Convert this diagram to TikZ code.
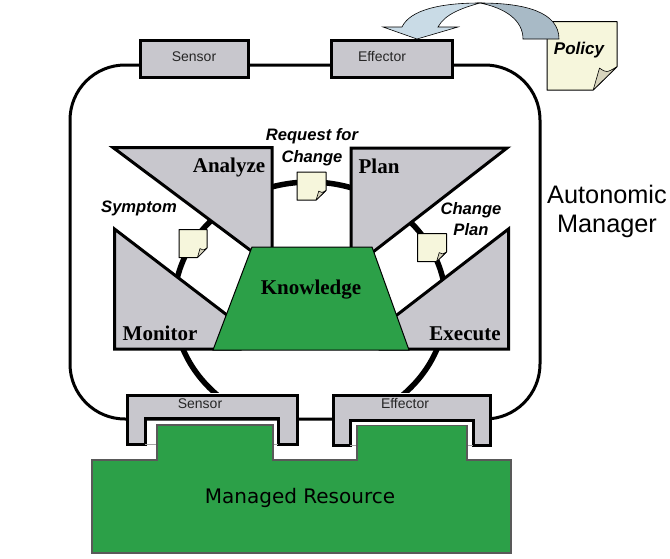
\documentclass[tikz,border=0pt]{standalone}
\usepackage{fontspec}
\setmainfont{Liberation Sans}
\newfontfamily\serifface{Liberation Serif}
\newfontfamily\dejaface{DejaVu Sans}
\definecolor{panelgray}{RGB}{200, 199, 205}
\definecolor{knowgreen}{RGB}{44, 160, 72}
\definecolor{noteyellow}{RGB}{246, 246, 220}
\definecolor{foldtan}{RGB}{216, 213, 190}
\definecolor{arrowlight}{RGB}{201, 219, 230}
\definecolor{arrowdark}{RGB}{168, 186, 198}
\tikzset{
  stage/.style={draw=black, line width=3pt, fill=panelgray, line join=miter},
  stagelabel/.style={font=\serifface\bfseries\fontsize{21}{23}\selectfont, inner sep=0pt},
  notelabel/.style={font=\bfseries\itshape\fontsize{16.6}{18}\selectfont, inner sep=0pt},
  boxlabel/.style={font=\fontsize{14}{16}\selectfont, text=black!85, inner sep=0pt},
  sideword/.style={font=\fontsize{25.3}{27}\selectfont, inner sep=0pt},
  sensorbox/.style={draw=black, line width=3pt, fill=panelgray, inner sep=0pt, minimum height=37pt, font=\fontsize{14}{16}\selectfont, text=black!85}
}
% x y w h for the paper, fold size goes with the width
\newcommand{\notepaper}[4]{
  \begin{scope}[shift={(#1,#2)}, x=#3pt, y=-#4pt]
    \draw[fill=noteyellow, line width=1pt, line join=round] (0,0) -- (1,0) -- (1,0.66) -- (0.66,1) -- (0,1) -- cycle;
    \draw[fill=foldtan, line width=0.6pt, line join=round] (0.66,1) -- (0.75,0.68) .. controls (0.85,0.75) .. (1,0.66) -- cycle;
  \end{scope}
}
\begin{document}
\begin{tikzpicture}[x=1pt, y=-1pt]
  \useasboundingbox (0,0) rectangle (670,558);

  % manager outline
  \draw[line width=3pt, rounded corners=55pt] (70,65) rectangle (540,419);

  % the loop, only the part above the lower boxes
  \begin{scope}
    \clip (100,150) rectangle (520,392);
    \draw[line width=5.5pt] (310,305) ellipse [x radius=136, y radius=123];
  \end{scope}

  \draw[stage] (113,147.5) -- (272,147.5) -- (272,250) -- (250,250) -- cycle;
  \draw[stage] (351,148) -- (507,148) -- (373,252) -- (351,252) -- cycle;
  \draw[stage] (114.5,229) -- (114.5,349) -- (240,349) -- (240,325) -- cycle;
  \draw[stage] (508.5,229) -- (508.5,349) -- (380,349) -- (380,328) -- cycle;
  \draw[fill=knowgreen, line width=1pt] (252,247) -- (372,247) -- (409,350) -- (213,350) -- cycle;

  \node[stagelabel] (analyze) at (229,167) {Analyze};
  \node[stagelabel] (plan) at (379,166.5) {Plan};
  \node[stagelabel] (monitor) at (160,333.5) {Monitor};
  \node[stagelabel] (execute) at (465,333.5) {Execute};
  \node[stagelabel] (knowledge) at (311,289.5) {Knowledge};

  \notepaper{297}{172}{29}{28}
  \notepaper{179}{229.5}{28}{28}
  \notepaper{417.5}{233.5}{29}{28}

  \node[notelabel] (request) at (312,136.5) {Request for};
  \node[notelabel] (requestb) at (312,158) {Change};
  \node[notelabel] (symptom) at (139,208.5) {Symptom};
  \node[notelabel] (changeplan) at (471,210.5) {Change};
  \node[notelabel] (changeplanb) at (471,229.5) {Plan};

  \node[sensorbox, minimum width=108pt] (topsensor) at (194,58.5) {};
  \node[boxlabel] (topsensorlabel) at (194,57) {Sensor};
  \node[sensorbox, minimum width=121pt] (topeffector) at (391.5,58.5) {};
  \node[boxlabel] (topeffectorlabel) at (382,56.5) {Effector};

  % policy note and the bent arrow
  \notepaper{547}{21.5}{70}{68.5}
  \node[font=\bfseries\itshape\fontsize{17}{19}\selectfont, inner sep=0pt] (policy) at (579,50.5) {Policy};
  \draw[fill=arrowdark, line width=0.6pt] (480,3) .. controls (525,3) and (559,12) .. (559,39) -- (523,39) .. controls (523,20) and (505,8) .. (480,3) -- cycle;
  \draw[fill=arrowlight, line width=0.6pt] (480,3) .. controls (440,3) and (410,10) .. (402,27) -- (383,27) -- (417,39) -- (458,27) -- (438,27) .. controls (445,14) and (462,8) .. (480,3) -- cycle;

  \node[sideword] (autonomic) at (607,194.5) {Autonomic};
  \node[sideword] (manager) at (607,226) {Manager};

  % lower boxes, with the notch for the resource
  \draw[stage] (127,395.5) -- (297,395.5) -- (297,444) -- (278,444) -- (278,418.5) -- (145,418.5) -- (145,444) -- (127,444) -- cycle;
  \draw[stage] (333,395.5) -- (490,395.5) -- (490,445) -- (473,445) -- (473,420) -- (350,420) -- (350,445) -- (333,445) -- cycle;
  \node[boxlabel] (lowsensor) at (200,404) {Sensor};
  \node[boxlabel] (loweffector) at (405,403.5) {Effector};

  \foreach \xa/\xb/\yy in {145/157/444, 273/278/444, 350/357/445, 467/473/445}
    \draw[gray!70, line width=0.5pt] (\xa,\yy) -- (\xb,\yy);

  \draw[draw=black!65, line width=1.1pt, fill=knowgreen] (92,460) -- (157,460) -- (157,425) -- (273,425) -- (273,460) -- (357,460) -- (357,425.5) -- (467,425.5) -- (467,460) -- (511,460) -- (511,553) -- (92,553) -- cycle;
  \node[font=\dejaface\fontsize{20}{22}\selectfont, inner sep=0pt] (resource) at (300,498) {Managed Resource};
\end{tikzpicture}
\end{document}
